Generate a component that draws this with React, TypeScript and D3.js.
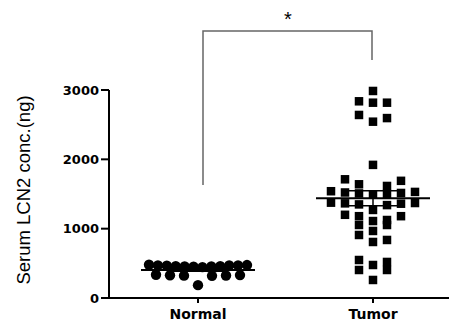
import React from 'react';
import * as d3 from 'd3';

const categories = ['Normal', 'Tumor'];
const normalValues = [480, 470, 475, 460, 465, 455, 470, 450, 460, 445, 470, 455, 335, 330, 325, 320, 328, 322, 185];
const tumorValues = [
  2986, 2837, 2817, 2817, 2640, 2595, 2543, 1920, 1712, 1690, 1640, 1616,
  1540, 1530, 1522, 1515, 1508, 1500, 1495, 1375, 1370, 1365, 1360, 1350, 1340, 1270,
  1200, 1180, 1180, 1125, 1110, 1053, 1053, 967, 909, 837, 808, 548, 520, 476, 404, 404, 260,
];
const yTicks = [0, 1000, 2000, 3000];
const yLabel = 'Serum LCN2 conc.(ng)';
const sigLabel = '*';

const W = 452;
const H = 324;

type P = { v: number; y: number; x: number };

function swarm(values: number[], y: d3.ScaleLinear<number, number>, cx: number, binPx: number, slot: number, maxSpan: number): P[] {
  const sorted = values.map((v) => ({ v, y: y(v), x: cx })).sort((a, b) => a.y - b.y);
  const bins: { top: number; pts: P[] }[] = [];
  let cur: { top: number; pts: P[] } | null = null;
  for (const p of sorted) {
    if (!cur || p.y - cur.top > binPx) {
      cur = { top: p.y, pts: [] };
      bins.push(cur);
    }
    cur.pts.push(p);
  }
  const out: P[] = [];
  for (const b of bins) {
    const n = b.pts.length;
    let offs: number[];
    if (n % 2 === 1) offs = d3.range(n).map((i) => (i - (n - 1) / 2) * slot);
    else offs = d3.range(n).map((i) => (i < n / 2 ? -(i + 1) : i - n / 2 + 1) * slot);
    const maxAbs = d3.max(offs, (o) => Math.abs(o)) || 0;
    if (maxAbs > maxSpan / 2 && n > 1) offs = d3.range(n).map((i) => (i * maxSpan) / (n - 1) - maxSpan / 2);
    offs.sort((a, b) => Math.abs(a) - Math.abs(b) || b - a);
    const pts = b.pts.slice().sort((a, c) => a.v - c.v);
    pts.forEach((p, i) => out.push({ ...p, x: cx + offs[i] }));
  }
  return out;
}

export default function App() {
  const y = d3.scaleLinear().domain([0, 3000]).range([298, 90]);
  const x = d3.scalePoint<string>().domain(categories).range([198, 373]);
  const axisX = 109;
  const xN = x('Normal')!;
  const xT = x('Tumor')!;

  const normalPts = swarm(normalValues, y, xN, 8, 14, 98);
  const tumorPts = swarm(tumorValues, y, xT, 8, 14, 98);

  const stats = (vals: number[]) => {
    const m = d3.mean(vals)!;
    const sd = d3.deviation(vals)!;
    return { m, sem: sd / Math.sqrt(vals.length) };
  };
  const sN = stats(normalValues);
  const sT = stats(tumorValues);

  const font = "'DejaVu Sans', Verdana, sans-serif";
  const sq = 8.5;

  const meanBar = (cx: number, s: { m: number; sem: number }, key: string) => (
    <g key={key} stroke="#000">
      <line x1={cx - 57} x2={cx + 57} y1={y(s.m)} y2={y(s.m)} strokeWidth={2} />
      <line x1={cx} x2={cx} y1={y(s.m - s.sem)} y2={y(s.m + s.sem)} strokeWidth={1.5} />
      <line x1={cx - 28} x2={cx + 28} y1={y(s.m + s.sem)} y2={y(s.m + s.sem)} strokeWidth={1.5} />
      <line x1={cx - 28} x2={cx + 28} y1={y(s.m - s.sem)} y2={y(s.m - s.sem)} strokeWidth={1.5} />
    </g>
  );

  return (
    <svg width={W} height={H} style={{ position: 'absolute', left: 0, top: 0, background: '#fff' }}>
      <rect width={W} height={H} fill="#fff" />
      {/* significance bracket */}
      <path d={`M${203},185 V31 H${372} V60`} fill="none" stroke="#666" strokeWidth={1.5} />
      <text x={288} y={26} textAnchor="middle" fontFamily="'Liberation Sans', Arial, sans-serif" fontSize={20} fill="#000">
        {sigLabel}
      </text>

      {/* points */}
      {normalPts.map((p, i) => (
        <circle key={'n' + i} cx={p.x} cy={p.y} r={5.2} fill="#000" />
      ))}
      {tumorPts.map((p, i) => (
        <rect key={'t' + i} x={p.x - sq / 2} y={p.y - sq / 2} width={sq} height={sq} fill="#000" />
      ))}
      {meanBar(xN, sN, 'mn')}
      {meanBar(xT, sT, 'mt')}

      {/* axes */}
      <line x1={axisX} x2={axisX} y1={y(3000)} y2={y(0)} stroke="#000" strokeWidth={2} />
      <line x1={axisX - 1} x2={449} y1={y(0)} y2={y(0)} stroke="#000" strokeWidth={2} />
      {yTicks.map((t) => (
        <g key={t}>
          <line x1={axisX - 8} x2={axisX} y1={y(t)} y2={y(t)} stroke="#000" strokeWidth={2} />
          <text x={axisX - 10} y={y(t)} dy="0.36em" textAnchor="end" fontFamily={font} fontWeight="bold" fontSize={13} fill="#000">
            {t}
          </text>
        </g>
      ))}
      {categories.map((c) => (
        <g key={c}>
          <line x1={x(c)!} x2={x(c)!} y1={y(0)} y2={y(0) + 5} stroke="#000" strokeWidth={2} />
          <text x={x(c)!} y={319} textAnchor="middle" fontFamily={font} fontWeight="bold" fontSize={14} fill="#000">
            {c}
          </text>
        </g>
      ))}
      <text
        transform={`translate(30,${190}) rotate(-90)`}
        textAnchor="middle"
        fontFamily="'Liberation Sans', Arial, sans-serif"
        fontSize={18.5}
        fill="#000"
      >
        {yLabel}
      </text>
    </svg>
  );
}
